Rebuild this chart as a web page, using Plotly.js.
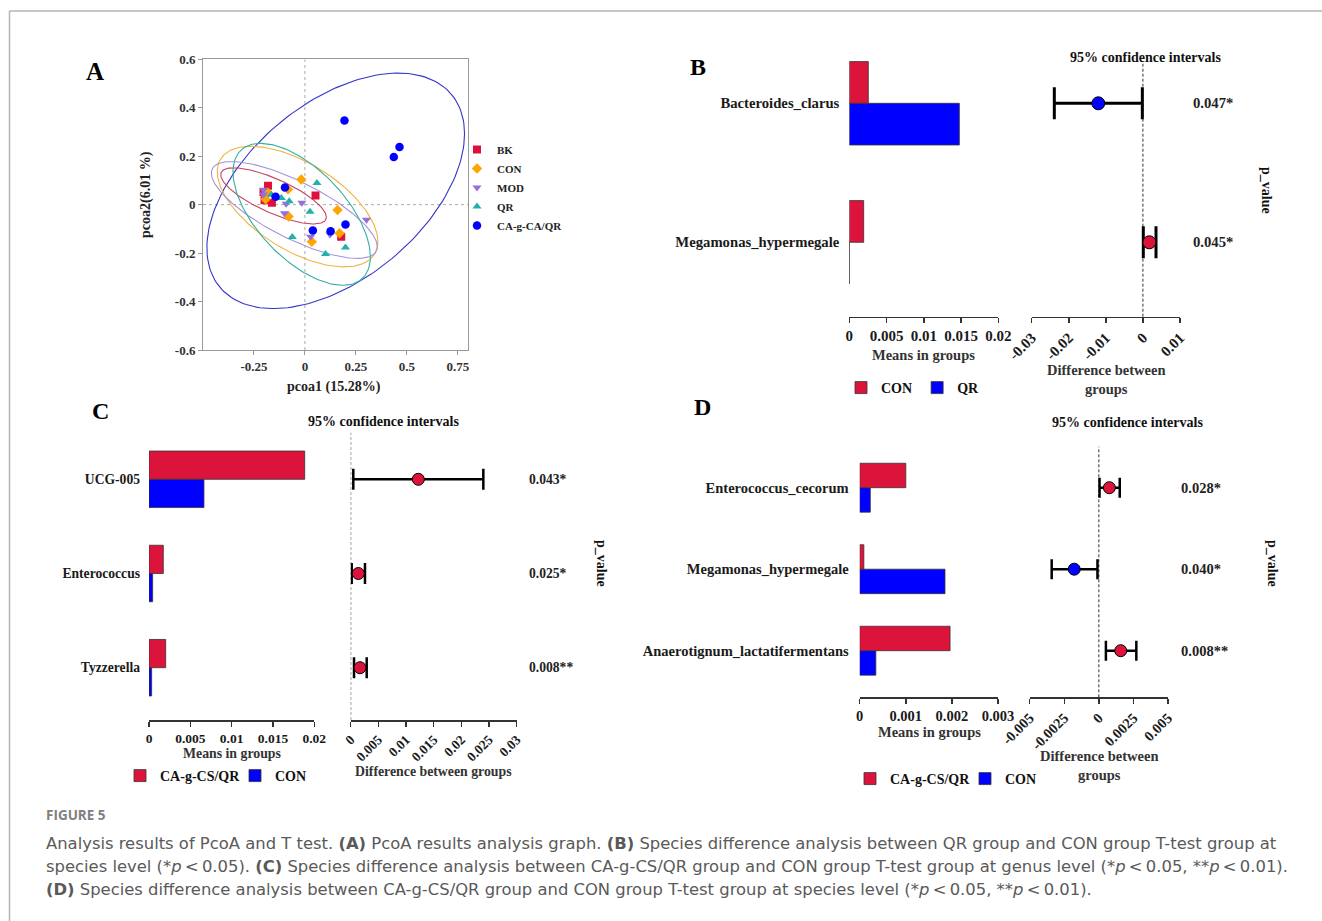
<!DOCTYPE html>
<html><head><meta charset="utf-8">
<script src="https://cdn.plot.ly/plotly-3.0.1.min.js"></script>
<style>html,body{margin:0;padding:0;background:#fff;}#chart{width:1322px;height:921px;}</style>
</head><body><div id="chart"></div>
<script>
// ---------------- Panel A (PCoA) data ----------------
const groupNames = ['BK', 'CON', 'MOD', 'QR', 'CA-g-CA/QR'];
const bkX  = [-0.181, -0.203, -0.198, -0.162, 0.052, 0.178];
const bkY  = [0.078, 0.052, 0.018, 0.008, 0.038, -0.133];
const conX = [-0.018, -0.083, -0.181, -0.193, -0.080, 0.160, 0.170, 0.034];
const conY = [0.104, 0.063, 0.049, 0.022, -0.049, -0.022, -0.118, -0.153];
const modX = [-0.203, -0.203, -0.092, -0.015, -0.100, 0.028, 0.123, 0.302];
const modY = [0.062, 0.042, 0.004, 0.008, -0.036, -0.133, -0.123, -0.062];
const qrX  = [-0.165, -0.116, -0.077, 0.059, 0.025, -0.062, 0.199, 0.101];
const qrY  = [0.041, 0.027, 0.014, 0.089, -0.029, -0.134, -0.177, -0.204];
const cagX = [0.194, 0.464, 0.436, -0.098, -0.144, 0.039, 0.126, 0.199];
const cagY = [0.347, 0.238, 0.197, 0.071, 0.033, -0.107, -0.110, -0.082];
// confidence ellipses: centre, half x-extent, half y-extent, phase (deg)
const ellCx  = [-0.154, -0.036, -0.052, -0.016, 0.151];
const ellCy  = [0.036, -0.008, -0.022, -0.040, 0.057];
const ellA   = [0.259, 0.394, 0.407, 0.337, 0.632];
const ellB   = [0.116, 0.249, 0.200, 0.293, 0.486];
const ellPhi = [139, 125.5, 139.5, 126.7, 61];
const aXTicks = [-0.25, 0, 0.25, 0.5, 0.75];
const aXTickText = ['-0.25', '0', '0.25', '0.5', '0.75'];
const aYTicks = [-0.6, -0.4, -0.2, 0, 0.2, 0.4, 0.6];
const aYTickText = ['-0.6', '-0.4', '-0.2', '0', '0.2', '0.4', '0.6'];

// ---------------- Panel B ----------------
const bCats = ['Bacteroides_clarus', 'Megamonas_hypermegale'];
const bCON  = [0.00255, 0.00193];
const bQR   = [0.01477, 0.00002];
const bDiff = [-0.01203, 0.00173];
const bLow  = [-0.0239, 0.0001];
const bHigh = [-0.00016, 0.00353];
const bP    = ['0.047*', '0.045*'];
const bBarTicks = [0, 0.005, 0.01, 0.015, 0.02];
const bBarTickText = ['0', '0.005', '0.01', '0.015', '0.02'];
const bCiTicks = [-0.03, -0.02, -0.01, 0, 0.01];
const bCiTickText = ['-0.03', '-0.02', '-0.01', '0', '0.01'];

// ---------------- Panel C ----------------
const cCats = ['UCG-005', 'Enterococcus', 'Tyzzerella'];
const cCAG  = [0.01884, 0.00173, 0.00202];
const cCON  = [0.00665, 0.00044, 0.00032];
const cDiff = [0.01222, 0.00138, 0.00168];
const cLow  = [0.00047, 0.00018, 0.0006];
const cHigh = [0.02397, 0.00258, 0.00289];
const cP    = ['0.043*', '0.025*', '0.008**'];
const cBarTicks = [0, 0.005, 0.01, 0.015, 0.02];
const cBarTickText = ['0', '0.005', '0.01', '0.015', '0.02'];
const cCiTicks = [0, 0.005, 0.01, 0.015, 0.02, 0.025, 0.03];
const cCiTickText = ['0', '0.005', '0.01', '0.015', '0.02', '0.025', '0.03'];

// ---------------- Panel D ----------------
const dCats = ['Enterococcus_cecorum', 'Megamonas_hypermegale', 'Anaerotignum_lactatifermentans'];
const dCAG  = [0.0010, 0.00009, 0.00196];
const dCON  = [0.00023, 0.00185, 0.00035];
const dDiff = [0.00076, -0.00178, 0.00158];
const dLow  = [0.00005, -0.00341, 0.00051];
const dHigh = [0.00151, -0.0001, 0.00271];
const dP    = ['0.028*', '0.040*', '0.008**'];
const dBarTicks = [0, 0.001, 0.002, 0.003];
const dBarTickText = ['0', '0.001', '0.002', '0.003'];
const dCiTicks = [-0.005, -0.0025, 0, 0.0025, 0.005];
const dCiTickText = ['-0.005', '-0.0025', '0', '0.0025', '0.005'];

// ---------------- drawing ----------------
const W = 1322, H = 921;
const X = px => px / W, Y = py => 1 - py / H;
const SERIF = 'Liberation Serif, Times New Roman, serif';
const RED = '#DC143C', BLUE = '#0000FF';
const bf = (size, color) => ({family: SERIF, size: size, color: color || '#111', weight: 'bold'});

const traces = [];
const layout = {
  width: W, height: H, margin: {l: 0, r: 0, t: 0, b: 0},
  paper_bgcolor: '#fff', plot_bgcolor: '#fff',
  barmode: 'group', bargap: 0.4, bargroupgap: 0,
  hovermode: false, showlegend: true,
  annotations: [], shapes: []
};
function ann(text, px, py, font, extra) {
  layout.annotations.push(Object.assign({
    text: text, x: X(px), y: Y(py), xref: 'paper', yref: 'paper',
    showarrow: false, xanchor: 'center', yanchor: 'middle', font: font
  }, extra || {}));
}

// Panel A
const aStyles = [
  {sym: 'square', col: '#E0103C', ell: '#C8405C'},
  {sym: 'diamond', col: '#FFA500', ell: '#F0B43C'},
  {sym: 'triangle-down', col: '#9370DB', ell: '#A592DA'},
  {sym: 'triangle-up', col: '#20B2AA', ell: '#36AFA3'},
  {sym: 'circle', col: '#0000FF', ell: '#3535C8'}
];
const aXs = [bkX, conX, modX, qrX, cagX];
const aYs = [bkY, conY, modY, qrY, cagY];
[4, 0, 1, 2, 3].forEach(i => {
  const ex = [], ey = [];
  const ph = ellPhi[i] * Math.PI / 180;
  for (let k = 0; k <= 180; k++) {
    const t = 2 * Math.PI * k / 180;
    ex.push(ellCx[i] + ellA[i] * Math.cos(t));
    ey.push(ellCy[i] + ellB[i] * Math.cos(t - ph));
  }
  traces.push({type: 'scatter', mode: 'lines', x: ex, y: ey, xaxis: 'x', yaxis: 'y',
    line: {color: aStyles[i].ell, width: 1.1}, showlegend: false});
});
groupNames.forEach((g, i) => {
  traces.push({type: 'scatter', mode: 'markers', name: g, x: aXs[i], y: aYs[i],
    xaxis: 'x', yaxis: 'y', legend: 'legend',
    marker: {symbol: aStyles[i].sym, color: aStyles[i].col, size: i === 4 ? 8.5 : 8}});
});
layout.xaxis = {domain: [X(203), X(468)], range: [-0.5, 0.8], anchor: 'y',
  tickvals: aXTicks, ticktext: aXTickText, showline: true, mirror: true, linecolor: '#999',
  ticks: 'outside', ticklen: 4, tickcolor: '#999', tickfont: bf(13, '#333'),
  showgrid: false, zeroline: false};
layout.yaxis = {domain: [Y(350), Y(59.3)], range: [-0.6, 0.6], anchor: 'x',
  tickvals: aYTicks, ticktext: aYTickText, showline: true, mirror: true, linecolor: '#999',
  ticks: 'outside', ticklen: 4, tickcolor: '#999', tickfont: bf(13, '#333'),
  showgrid: false, zeroline: false};
layout.shapes.push({type: 'line', xref: 'x', yref: 'y', x0: 0, x1: 0, y0: -0.6, y1: 0.6,
  line: {color: '#aaa', width: 1, dash: 'dot'}, layer: 'below'});
layout.shapes.push({type: 'line', xref: 'x', yref: 'y', x0: -0.5, x1: 0.8, y0: 0, y1: 0,
  line: {color: '#aaa', width: 1, dash: 'dot'}, layer: 'below'});
layout.legend = {x: X(457), y: Y(135), xanchor: 'left', yanchor: 'top',
  font: bf(11, '#222'), bgcolor: 'rgba(0,0,0,0)', tracegroupgap: 0};
ann('A', 95, 71, bf(25, '#000'));
ann('pcoa1 (15.28%)', 334, 387, bf(14, '#222'));
ann('pcoa2(6.01 %)', 146, 195, bf(14, '#222'), {textangle: -90});

// Panels B, C, D
function panel(p) {
  const n = p.cats.length;
  const catOrder = p.cats.slice().reverse();
  const lo = -(p.axisY - p.bottomCenter) / p.spacing;
  const hi = (p.bottomCenter - p.topY) / p.spacing;
  const yDom = [Y(p.axisY), Y(p.topY)];
  const [bx, by, cx, cy] = p.ax;
  const xa = 'xaxis' + bx.slice(1), ya = 'yaxis' + by.slice(1);
  const xc = 'xaxis' + cx.slice(1), yc = 'yaxis' + cy.slice(1);
  traces.push({type: 'bar', orientation: 'h', name: p.blueName, y: p.cats, x: p.blue,
    xaxis: bx, yaxis: by, legend: p.legend, legendrank: 2,
    marker: {color: BLUE, line: {color: '#333', width: 0.8}}});
  traces.push({type: 'bar', orientation: 'h', name: p.redName, y: p.cats, x: p.red,
    xaxis: bx, yaxis: by, legend: p.legend, legendrank: 1,
    marker: {color: RED, line: {color: '#333', width: 0.8}}});
  traces.push({type: 'scatter', mode: 'markers', x: p.diff, y: p.cats, xaxis: cx, yaxis: cy,
    showlegend: false, cliponaxis: false,
    marker: {size: p.msize, color: p.diff.map(v => v >= 0 ? RED : BLUE), line: {color: '#000', width: 1}},
    error_x: {type: 'data', symmetric: false,
      array: p.high.map((v, i) => v - p.diff[i]),
      arrayminus: p.low.map((v, i) => p.diff[i] - v),
      color: '#000', thickness: p.thick, width: p.cap}});
  const yBase = {type: 'category', categoryorder: 'array', categoryarray: catOrder,
    range: [lo, hi], domain: yDom, showgrid: false, zeroline: false, showline: false};
  layout[ya] = Object.assign({}, yBase, {anchor: bx, ticks: '', tickfont: bf(p.fs, '#1a1a1a'),
    ticklabelstandoff: p.labelGap});
  layout[yc] = Object.assign({}, yBase, {anchor: cx, visible: false});
  const xBase = {showline: true, linecolor: '#333', linewidth: 1.5, ticks: 'outside',
    ticklen: 5, tickwidth: 1.5, tickcolor: '#333', tickfont: bf(p.tfs, '#1a1a1a'),
    showgrid: false, zeroline: false};
  layout[xa] = Object.assign({}, xBase, {domain: [X(p.barL), X(p.barR)], range: p.barRange,
    tickvals: p.barTicks, ticktext: p.barTickText, anchor: by});
  layout[xc] = Object.assign({}, xBase, {domain: [X(p.ciL), X(p.ciR)], range: p.ciRange,
    tickvals: p.ciTicks, ticktext: p.ciTickText, tickangle: -45, anchor: cy});
  layout.shapes.push({type: 'line', xref: cx, yref: 'paper', x0: 0, x1: 0,
    y0: Y(p.axisY), y1: Y(p.dashTop), line: {color: '#333', width: 1, dash: '3px,2px'}, layer: 'below'});
  p.pvals.forEach((t, i) => {
    layout.annotations.push({text: t, x: X(p.pX), xref: 'paper', y: n - 1 - i, yref: cy,
      xanchor: 'left', yanchor: 'middle', showarrow: false, font: bf(p.fs, '#222')});
  });
  layout[p.legend] = Object.assign({orientation: 'h', x: X(p.legX), y: Y(p.legY),
    xanchor: 'left', yanchor: 'middle', font: bf(14, '#111'), bgcolor: 'rgba(0,0,0,0)'},
    p.entry ? {entrywidth: p.entry, entrywidthmode: 'pixels'} : {});
}

panel({cats: bCats, red: bCON, blue: bQR, redName: 'CON', blueName: 'QR',
  diff: bDiff, low: bLow, high: bHigh, pvals: bP, ax: ['x2', 'y2', 'x3', 'y3'], legend: 'legend2',
  barL: 849.3, barR: 998.3, ciL: 1031.7, ciR: 1180, axisY: 316.7, topY: 45,
  bottomCenter: 242.3, spacing: 139, dashTop: 62, cap: 16, thick: 3, msize: 13,
  barRange: [0, 0.02], barTicks: bBarTicks, barTickText: bBarTickText,
  ciRange: [-0.03, 0.01], ciTicks: bCiTicks, ciTickText: bCiTickText,
  fs: 14.7, tfs: 15, labelGap: 9, pX: 1191, legX: 841, legY: 388});
panel({cats: cCats, red: cCAG, blue: cCON, redName: 'CA-g-CS/QR', blueName: 'CON',
  diff: cDiff, low: cLow, high: cHigh, pvals: cP, ax: ['x4', 'y4', 'x5', 'y5'], legend: 'legend3',
  barL: 149, barR: 314.3, ciL: 350.7, ciR: 516.7, axisY: 720, topY: 430,
  bottomCenter: 667.7, spacing: 94.2, dashTop: 432.7, cap: 10.5, thick: 2.5, msize: 12,
  barRange: [0, 0.02], barTicks: cBarTicks, barTickText: cBarTickText,
  ciRange: [0, 0.03], ciTicks: cCiTicks, ciTickText: cCiTickText,
  fs: 13.6, tfs: 13.5, labelGap: 8, pX: 526.5, legX: 120, legY: 776, entry: 70});
panel({cats: dCats, red: dCAG, blue: dCON, redName: 'CA-g-CS/QR', blueName: 'CON',
  diff: dDiff, low: dLow, high: dHigh, pvals: dP, ax: ['x6', 'y6', 'x7', 'y7'], legend: 'legend4',
  barL: 859.7, barR: 998, ciL: 1029.7, ciR: 1168, axisY: 697.3, topY: 440,
  bottomCenter: 650.7, spacing: 81.5, dashTop: 446.7, cap: 10, thick: 2.5, msize: 12,
  barRange: [0, 0.003], barTicks: dBarTicks, barTickText: dBarTickText,
  ciRange: [-0.005, 0.005], ciTicks: dCiTicks, ciTickText: dCiTickText,
  fs: 14.5, tfs: 14.5, labelGap: 10, pX: 1178.5, legX: 850, legY: 779, entry: 70});

// panel texts
ann('B', 698, 67, bf(24, '#000'));
ann('C', 100, 411, bf(24, '#000'));
ann('D', 702, 407, bf(24, '#000'));
ann('95% confidence intervals', 1145, 57, bf(14, '#111'));
ann('95% confidence intervals', 383, 421, bf(14, '#111'));
ann('95% confidence intervals', 1127, 422.5, bf(14, '#111'));
ann('Means in groups', 924, 355, bf(14.5, '#333'));
ann('Means in groups', 232, 753, bf(13.8, '#333'));
ann('Means in groups', 929, 732, bf(14.5, '#333'));
ann('Difference between<br>groups', 1106, 380, bf(14.5, '#333'));
ann('Difference between groups', 433, 771, bf(13.8, '#333'));
ann('Difference between<br>groups', 1099, 765, bf(14.5, '#333'));
ann('p_value', 1266, 190, bf(14, '#111'), {textangle: 90});
ann('p_value', 602, 563, bf(14, '#111'), {textangle: 90});
ann('p_value', 1273, 563, bf(14, '#111'), {textangle: 90});

// figure frame + caption
layout.shapes.push({type: 'line', xref: 'paper', yref: 'paper', x0: X(9.5), x1: 1, y0: Y(11), y1: Y(11),
  line: {color: '#b5b5b5', width: 1.5}});
layout.shapes.push({type: 'line', xref: 'paper', yref: 'paper', x0: X(9.5), x1: X(9.5), y0: 0, y1: Y(11),
  line: {color: '#b5b5b5', width: 1.5}});
const capFont = {family: 'DejaVu Sans, Open Sans, sans-serif', size: 16.4, color: '#5a5a5a'};
const lt = '\u2009&lt;\u2009';
ann('FIGURE 5', 44, 815, {family: 'Open Sans, Noto Sans, sans-serif', size: 13.5, color: '#808080', weight: 'bold'}, {xanchor: 'left'});
ann('Analysis results of PcoA and T test. <b>(A)</b> PcoA results analysis graph. <b>(B)</b> Species difference analysis between QR group and CON group T-test group at',
  44, 843, capFont, {xanchor: 'left'});
ann('species level (*<i>p</i>' + lt + '0.05). <b>(C)</b> Species difference analysis between CA-g-CS/QR group and CON group T-test group at genus level (*<i>p</i>' + lt + '0.05, **<i>p</i>' + lt + '0.01).',
  44, 866, capFont, {xanchor: 'left'});
ann('<b>(D)</b> Species difference analysis between CA-g-CS/QR group and CON group T-test group at species level (*<i>p</i>' + lt + '0.05, **<i>p</i>' + lt + '0.01).',
  44, 889, capFont, {xanchor: 'left'});

Plotly.newPlot('chart', traces, layout, {displayModeBar: false, staticPlot: true});
</script>
</body></html>
